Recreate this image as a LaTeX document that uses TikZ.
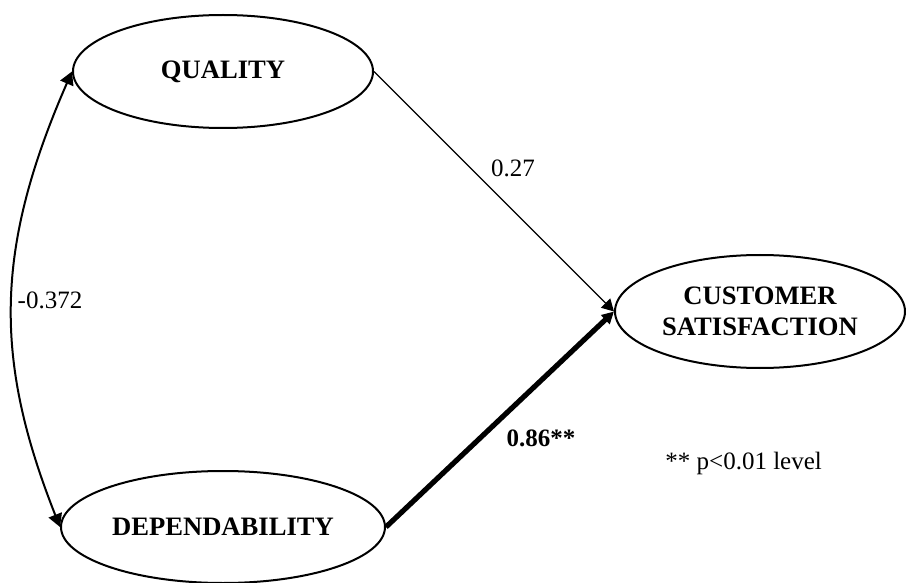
\documentclass[tikz,border=0pt]{standalone}
\usepackage{fontspec}
\setmainfont{Liberation Serif}
\usetikzlibrary{shapes.geometric,arrows.meta}
\begin{document}
\begin{tikzpicture}[x=0.5pt,y=-0.5pt,
  construct/.style={ellipse,draw,line width=1pt,inner sep=0pt,
    align=center,font=\fontsize{13.3}{15.5}\selectfont\bfseries},
  path/.style={line width=0.65pt,-{Triangle[length=6pt,width=6.5pt]}},
  strongpath/.style={line width=2.6pt,-{Triangle[length=6pt,width=6pt]}},
  corr/.style={line width=1pt,{Triangle[length=6.5pt,width=7pt]}-{Triangle[length=6.5pt,width=7pt]}},
  coef/.style={font=\fontsize{12.5}{15}\selectfont,inner sep=0pt}]
\useasboundingbox (0,0) rectangle (906,583);

% latent constructs
\node[construct,minimum width=150pt,minimum height=56.5pt] (q) at (223,71.5) {QUALITY};
\node[construct,minimum width=162pt,minimum height=56pt] (d) at (223,527) {DEPENDABILITY};
\node[construct,minimum width=145pt,minimum height=56.5pt] (cs) at (760,311.5) {CUSTOMER\\SATISFACTION};

% structural paths
\draw[path] (q.east) -- (cs.west);
\draw[strongpath] (d.east) -- (cs.west);

% correlation between the exogenous constructs
\draw[corr] (q.west) .. controls (-6,250) and (-6,360) .. (d.west);

% coefficients
\node[coef] (c1) at (513,168) {0.27};
\node[coef] (c2) at (50,300) {-0.372};
\node[coef,font=\fontsize{12.5}{15}\selectfont\bfseries] (c3) at (541,438) {0.86**};
\node[coef,anchor=west] (note) at (665,463) {** p<0.01 level};
\end{tikzpicture}
\end{document}
